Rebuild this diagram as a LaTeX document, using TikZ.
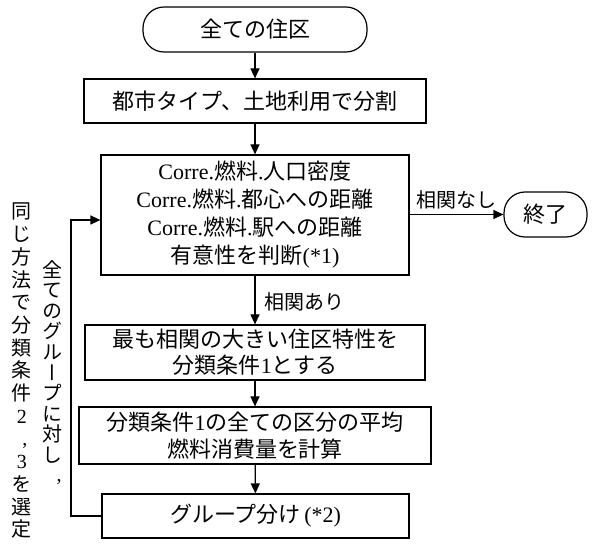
\documentclass[tikz,border=0pt]{standalone}
\usepackage{fontspec}
\setmainfont{Liberation Serif}
\newfontfamily\jp{Noto Sans CJK JP}
\newfontfamily\jpv{Noto Sans CJK JP}[RawFeature=+vert]
\usetikzlibrary{arrows.meta}
\begin{document}
\begin{tikzpicture}[x=1pt,y=1pt,
  box/.style={draw, line width=1.2pt, inner sep=0pt, align=center,
    font=\fontsize{22}{28}\selectfont},
  term/.style={box, rounded corners=21pt},
  arr/.style={line width=1.2pt, -{Triangle[length=10pt,width=9pt]}},
  lbl/.style={inner sep=0pt, font=\jp\fontsize{20}{24}\selectfont},
  vtext/.style={inner sep=0pt, align=center, anchor=north}]
\useasboundingbox (0,0) rectangle (592,544);

\node[term, minimum width=224, minimum height=45] (start) at (255,514.5) {\jp 全ての住区};
\node[box, minimum width=342, minimum height=44] (split) at (255,443) {\jp 都市タイプ、土地利用で分割};
\node[box, minimum width=308, minimum height=120, font=\fontsize{22}{28}\selectfont] (corr) at (255,329)
  {Corre.{\jp 燃料}.{\jp 人口密度}\\Corre.{\jp 燃料}.{\jp 都心への距離}\\Corre.{\jp 燃料}.{\jp 駅への距離}\\{\jp 有意性を判断}(*1)};
\node[term, minimum width=83, minimum height=45] (end) at (545.5,329.5) {\jp 終了};
\node[box, minimum width=340, minimum height=55, font=\fontsize{22}{26}\selectfont] (cond) at (255,191.5)
  {{\jp 最も相関の大きい住区特性を}\\{\jp 分類条件}1{\jp とする}};
\node[box, minimum width=352, minimum height=57, font=\fontsize{22}{27}\selectfont] (avg) at (255,108.5)
  {{\jp 分類条件}1{\jp の全ての区分の平均}\\{\jp 燃料消費量を計算}};
\node[box, minimum width=307, minimum height=44] (grp) at (255.5,28) {{\jp グループ分け}\,(*2)};

\draw[arr] (start) -- (split);
\draw[arr] (split) -- (corr);
\draw[arr] (corr) -- (cond);
\draw[arr] (cond) -- (avg);
\draw[arr] (avg) -- (grp);
\draw[arr] (corr.east |- end.west) -- (end.west);

\node[lbl] (nolbl) at (456.5,344) {相関なし};
\node[lbl] (yeslbl) at (304,242) {相関あり};

\coordinate (lb) at (71,28);
\coordinate (lt) at (71,324);
\draw[arr] (grp.west) -- (lb) -- (lt) -- (corr.west |- lt);

\node[vtext, font=\jpv\fontsize{20}{22.7}\selectfont] (col1) at (22,341)
  {同\\じ\\方\\法\\で\\分\\類\\条\\件\\{\rmfamily 2}\\\hspace*{6pt}{\rmfamily ,}\\{\rmfamily 3}\\を\\選\\定};
\node[vtext, font=\jpv\fontsize{20}{20.6}\selectfont] (col2) at (52,284)
  {全\\て\\の\\グ\\ル\\ー\\プ\\に\\対\\し\\\hspace*{14pt}\raisebox{2pt}{\rmfamily ,}};
\end{tikzpicture}
\end{document}
